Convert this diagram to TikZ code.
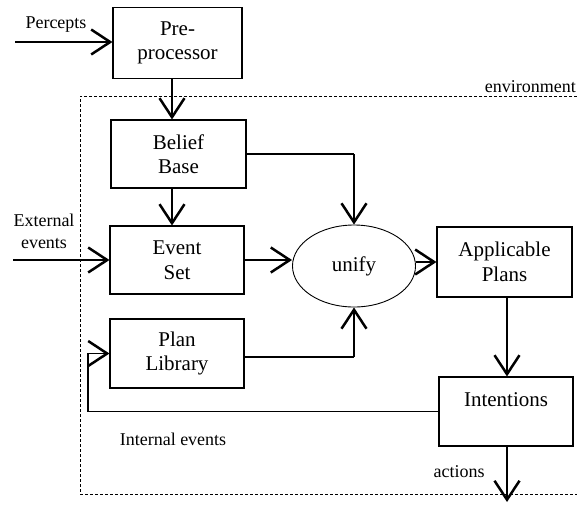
\documentclass[tikz,border=0pt]{standalone}
\usepackage{fontspec}
\setmainfont{Liberation Serif}
\usetikzlibrary{arrows.meta,shapes.geometric,calc}
\begin{document}
\begin{tikzpicture}[x=1pt,y=-1pt,
  box/.style={draw, line width=1.1pt, align=center, inner sep=0pt,
    font=\fontsize{21}{24.5}\selectfont},
  lab/.style={align=center, inner sep=0pt, font=\fontsize{18}{22}\selectfont},
  arr/.style={line width=2.5pt, -{Straight Barb[length=19pt,width=25pt]}},
  thinline/.style={line width=1.1pt},
  thinarr/.style={line width=1.1pt, -{Straight Barb[length=19pt,width=25pt,line width=2.5pt]}},
  envline/.style={line width=0.9pt, dash pattern=on 3pt off 2pt}]
\useasboundingbox (0,0) rectangle (577,504);

% environment boundary
\coordinate (e1) at (577,96);
\coordinate (e2) at (80,96);
\coordinate (e3) at (80,494);
\coordinate (e4) at (577,494);
\draw[envline] (e1) -- (e2) -- (e3) -- (e4);
\node[lab, anchor=east] (env) at (576,87) {environment};

% boxes
\node[box, minimum width=129pt, minimum height=71pt] (pre) at (177.5,43) {Pre-\\processor};
\node[box, minimum width=135pt, minimum height=68pt] (bb) at (178.5,154) {Belief\\Base};
\node[box, minimum width=134pt, minimum height=68pt] (es) at (177,260) {Event\\Set};
\node[box, minimum width=134pt, minimum height=69pt] (pl) at (177,353.5) {Plan\\Library};
\node[box, ellipse, line width=0.9pt, minimum width=123pt, minimum height=82pt] (un) at (354,266) {unify};
\node[box, minimum width=135pt, minimum height=70pt] (ap) at (504.5,262) {Applicable\\Plans};
\node[box, minimum width=134pt, minimum height=69pt] (int) at (506,411.5) {Intentions\\\mbox{}};

% labels
\node[lab] (perc) at (56,25) {Percepts};
\node[lab] (ext) at (44,231) {External\\events};
\node[lab] (ie) at (173,439) {Internal events};
\node[lab] (act) at (459,472) {actions};

% helper coordinates
\coordinate (ax) at (172,0);
\coordinate (bx) at (507,0);
\coordinate (lp) at (88,0);
\coordinate (pin) at (15,42);
\coordinate (ein) at (13,260);
\coordinate (aout) at (507,502);

% connectors
\draw[arr] (pin) -- (pre.west |- pin);
\draw[arr] (ax |- pre.south) -- (ax |- bb.north);
\draw[arr] (ax |- bb.south) -- (ax |- es.north);
\draw[arr] (ein) -- (es.west |- ein);

\coordinate (k1) at (un.north |- bb.east);
\draw[thinline] (bb.east) -- (k1);
\draw[arr] (k1) -- (un.north);

\draw[arr] (es.east) -- (un.west |- es.east);

\coordinate (pr) at (pl.east |- 0,357);
\coordinate (k2) at (un.south |- pr);
\draw[thinline] (pr) -- (k2);
\draw[arr] (k2) -- (un.south);

\draw[arr] (un.east |- ap.west) -- (ap.west);
\draw[arr] (bx |- ap.south) -- (bx |- int.north);
\draw[arr] (bx |- int.south) -- (aout);

\draw[thinarr] (int.west) -- (lp |- int.west) -- (lp |- pl.west) -- (pl.west);
\end{tikzpicture}
\end{document}
